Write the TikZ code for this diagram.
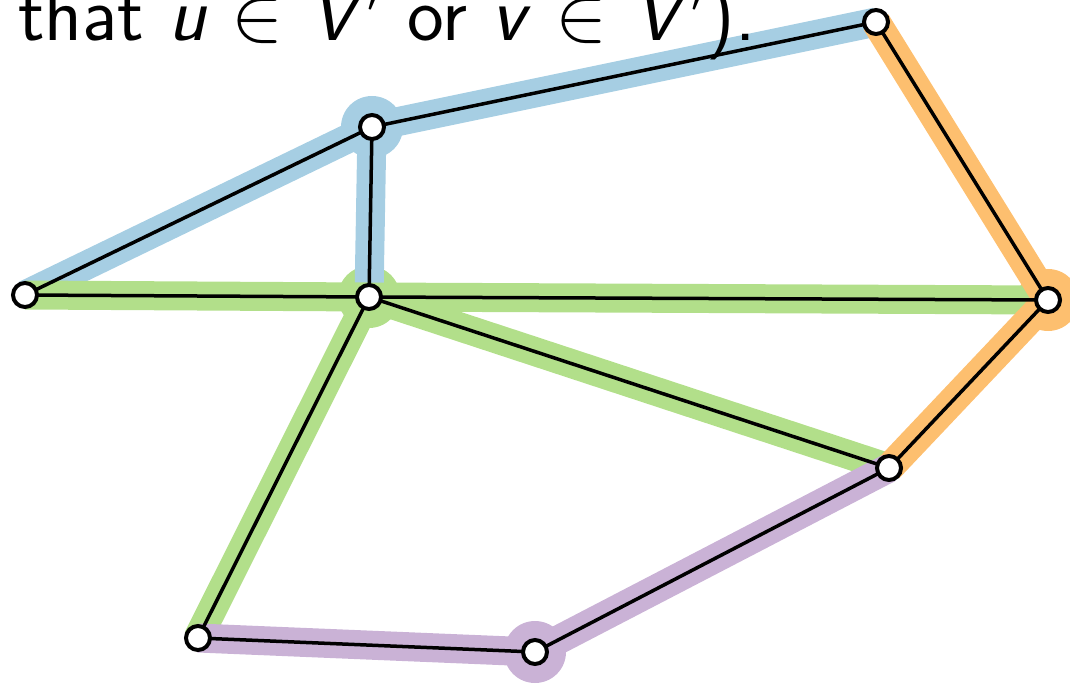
\RequirePackage{fix-cm}
\documentclass[tikz,border=0pt]{standalone}
\usepackage{xcolor}
\definecolor{cblue}{HTML}{A6CEE3}
\definecolor{cgreen}{HTML}{B2DF8A}
\definecolor{corange}{HTML}{FDBF6F}
\definecolor{cpurple}{HTML}{CAB2D6}
\begin{document}
\begin{tikzpicture}[x=1pt,y=-1pt]
\tikzset{
  vert/.style={circle,draw=black,fill=white,line width=4pt,minimum size=24pt,inner sep=0pt},
  halostroke/.style={line width=29pt},
  edgeline/.style={line width=3.5pt,draw=black}}
\useasboundingbox (0,0) rectangle (1070,684);
\coordinate (A) at (372,127);
\coordinate (B) at (876,22);
\coordinate (C) at (25,295);
\coordinate (D) at (369,297);
\coordinate (E) at (1048,300);
\coordinate (F) at (889,468);
\coordinate (G) at (198,638);
\coordinate (H) at (535,652);
% halos
\fill[cblue] (A) circle (31);
\fill[cgreen] (D) circle (31);
\fill[corange] (E) circle (31);
\fill[cpurple] (H) circle (31);
\draw[cblue,halostroke] (C) -- (A) (A) -- (B) (A) -- (D);
\draw[cgreen,halostroke] (C) -- (D) (D) -- (E) (D) -- (F) (D) -- (G);
\draw[corange,halostroke] (B) -- (E) (E) -- (F);
\draw[cpurple,halostroke] (F) -- (H) (G) -- (H);
% edges
\draw[edgeline] (C) -- (A) (A) -- (B) (A) -- (D) (C) -- (D) (D) -- (E) (D) -- (F) (D) -- (G) (B) -- (E) (E) -- (F) (F) -- (H) (G) -- (H);
% vertices
\foreach \v in {A,B,C,D,E,F,G,H} \node[vert] (n\v) at (\v) {};
\node[anchor=base west,inner sep=0pt,font=\fontsize{78}{78}\selectfont\sffamily] (txt) at (18,41) {that \textit{u} $\in$ \textit{V}$'$ or \textit{v} $\in$ \textit{V}$'$).};
\end{tikzpicture}
\end{document}
